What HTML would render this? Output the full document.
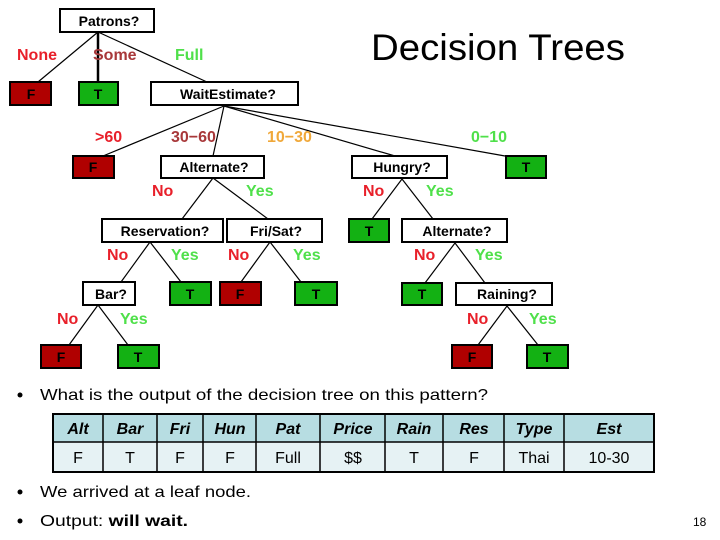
<!DOCTYPE html>
<html><head><meta charset="utf-8"><style>
html,body{margin:0;padding:0;background:#fff;}
svg{display:block;}
.n{font-family:"Liberation Sans",sans-serif;font-weight:bold;font-size:14px;fill:#000;}
.l{font-family:"Liberation Sans",sans-serif;font-weight:bold;font-size:16px;}
.r{fill:#e8202a}.g{fill:#4fe04a}.m{fill:#a8383a}.o{fill:#f0a83a}
.b{font-family:"Liberation Sans",sans-serif;font-size:16px;fill:#000;}
.th{font-family:"Liberation Sans",sans-serif;font-weight:bold;font-style:italic;font-size:16px;}
.td{font-family:"Liberation Sans",sans-serif;font-size:16px;}
</style></head><body>
<svg width="720" height="540" viewBox="0 0 720 540" xmlns="http://www.w3.org/2000/svg">
<g stroke="#000" stroke-width="1.2" fill="none">
<line x1="98" y1="32" x2="38" y2="82"/><line x1="98" y1="32" x2="98" y2="82" stroke-width="2.5"/><line x1="98" y1="32" x2="207" y2="82"/>
<line x1="224" y1="106" x2="103" y2="156"/><line x1="224" y1="106" x2="213" y2="156"/><line x1="224" y1="106" x2="395" y2="156"/><line x1="224" y1="106" x2="505" y2="156"/>
<line x1="213" y1="178" x2="182" y2="219"/><line x1="213" y1="178" x2="268" y2="219"/>
<line x1="402" y1="179" x2="372" y2="219"/><line x1="402" y1="179" x2="433" y2="219"/>
<line x1="150" y1="242" x2="121" y2="282"/><line x1="150" y1="242" x2="181" y2="282"/>
<line x1="270" y1="242" x2="241" y2="282"/><line x1="270" y1="242" x2="301" y2="282"/>
<line x1="455" y1="243" x2="425" y2="283"/><line x1="455" y1="243" x2="485" y2="283"/>
<line x1="98" y1="305" x2="69" y2="345"/><line x1="98" y1="305" x2="128" y2="345"/>
<line x1="507" y1="306" x2="478" y2="345"/><line x1="507" y1="306" x2="538" y2="345"/>
</g>
<g stroke="#000" stroke-width="2">
<rect x="60" y="9" width="94" height="23" fill="#fff"/>
<rect x="10" y="82" width="41" height="23" fill="#b00000"/>
<rect x="79" y="82" width="39" height="23" fill="#13b113"/>
<rect x="151" y="82" width="147" height="23" fill="#fff"/>
<rect x="73" y="156" width="41" height="22" fill="#b00000"/>
<rect x="161" y="156" width="103" height="22" fill="#fff"/>
<rect x="352" y="156" width="95" height="22" fill="#fff"/>
<rect x="506" y="156" width="40" height="22" fill="#13b113"/>
<rect x="102" y="219" width="121" height="23" fill="#fff"/>
<rect x="227" y="219" width="95" height="23" fill="#fff"/>
<rect x="349" y="219" width="40" height="23" fill="#13b113"/>
<rect x="402" y="219" width="105" height="23" fill="#fff"/>
<rect x="83" y="282" width="52" height="23" fill="#fff"/>
<rect x="170" y="282" width="41" height="23" fill="#13b113"/>
<rect x="220" y="282" width="41" height="23" fill="#b00000"/>
<rect x="295" y="282" width="42" height="23" fill="#13b113"/>
<rect x="402" y="283" width="40" height="22" fill="#13b113"/>
<rect x="456" y="283" width="96" height="22" fill="#fff"/>
<rect x="41" y="345" width="40" height="23" fill="#b00000"/>
<rect x="118" y="345" width="41" height="23" fill="#13b113"/>
<rect x="452" y="345" width="40" height="23" fill="#b00000"/>
<rect x="527" y="345" width="41" height="23" fill="#13b113"/>
</g>
<g class="n" text-anchor="middle">
<text x="109" y="26">Patrons?</text>
<text x="31" y="99">F</text><text x="98" y="99">T</text>
<text x="228" y="99">WaitEstimate?</text>
<text x="93" y="172">F</text><text x="214" y="172">Alternate?</text><text x="402" y="172">Hungry?</text><text x="526" y="172">T</text>
<text x="165" y="236">Reservation?</text><text x="276" y="236">Fri/Sat?</text><text x="369" y="236">T</text><text x="457" y="236">Alternate?</text>
<text x="111" y="299">Bar?</text><text x="190" y="299">T</text><text x="240" y="299">F</text><text x="316" y="299">T</text><text x="422" y="299">T</text><text x="507" y="299">Raining?</text>
<text x="61" y="362">F</text><text x="138" y="362">T</text><text x="472" y="362">F</text><text x="547" y="362">T</text>
</g>
<g class="l">
<text x="17" y="60" class="r">None</text><text x="93" y="60" class="m">Some</text><text x="175" y="60" class="g">Full</text>
<text x="95" y="142" class="r">&gt;60</text><text x="171" y="142" class="m">30−60</text><text x="267" y="142" class="o">10−30</text><text x="471" y="142" class="g">0−10</text>
<text x="152" y="196" class="r">No</text><text x="246" y="196" class="g">Yes</text>
<text x="363" y="196" class="r">No</text><text x="426" y="196" class="g">Yes</text>
<text x="107" y="260" class="r">No</text><text x="171" y="260" class="g">Yes</text>
<text x="228" y="260" class="r">No</text><text x="293" y="260" class="g">Yes</text>
<text x="414" y="260" class="r">No</text><text x="475" y="260" class="g">Yes</text>
<text x="57" y="324" class="r">No</text><text x="120" y="324" class="g">Yes</text>
<text x="467" y="324" class="r">No</text><text x="529" y="324" class="g">Yes</text>
</g>
<text x="371" y="60" font-family="Liberation Sans,sans-serif" font-size="37" textLength="254" lengthAdjust="spacingAndGlyphs">Decision Trees</text>
<circle cx="20" cy="395" r="2.5" fill="#000"/>
<text x="40" y="400" class="b" textLength="448" lengthAdjust="spacingAndGlyphs">What is the output of the decision tree on this pattern?</text>
<rect x="53" y="414" width="601" height="28" fill="#b7dde2"/>
<rect x="53" y="442" width="601" height="30" fill="#e6f2f4"/>
<g stroke="#000" stroke-width="1.5">
<rect x="53" y="414" width="601" height="58" fill="none" stroke-width="2"/>
<line x1="53" y1="442" x2="654" y2="442"/>
<line x1="103" y1="414" x2="103" y2="472"/><line x1="157" y1="414" x2="157" y2="472"/><line x1="203" y1="414" x2="203" y2="472"/><line x1="256" y1="414" x2="256" y2="472"/><line x1="320" y1="414" x2="320" y2="472"/><line x1="385" y1="414" x2="385" y2="472"/><line x1="443" y1="414" x2="443" y2="472"/><line x1="504" y1="414" x2="504" y2="472"/><line x1="564" y1="414" x2="564" y2="472"/>
</g>
<g text-anchor="middle">
<g class="th">
<text x="78" y="434">Alt</text><text x="130" y="434">Bar</text><text x="180" y="434">Fri</text><text x="230" y="434">Hun</text><text x="288" y="434">Pat</text><text x="353" y="434">Price</text><text x="414" y="434">Rain</text><text x="474" y="434">Res</text><text x="534" y="434">Type</text><text x="609" y="434">Est</text>
</g>
<g class="td">
<text x="78" y="463">F</text><text x="130" y="463">T</text><text x="180" y="463">F</text><text x="230" y="463">F</text><text x="288" y="463">Full</text><text x="353" y="463">$$</text><text x="414" y="463">T</text><text x="474" y="463">F</text><text x="534" y="463">Thai</text><text x="609" y="463">10-30</text>
</g>
</g>
<circle cx="20" cy="492" r="2.5" fill="#000"/>
<text x="40" y="497" class="b" textLength="211" lengthAdjust="spacingAndGlyphs">We arrived at a leaf node.</text>
<circle cx="20" cy="521" r="2.5" fill="#000"/>
<text x="40" y="526" class="b" textLength="148" lengthAdjust="spacingAndGlyphs">Output: <tspan font-weight="bold">will wait.</tspan></text>
<text x="693" y="526" font-family="Liberation Sans,sans-serif" font-size="12">18</text>
</svg>
</body></html>
